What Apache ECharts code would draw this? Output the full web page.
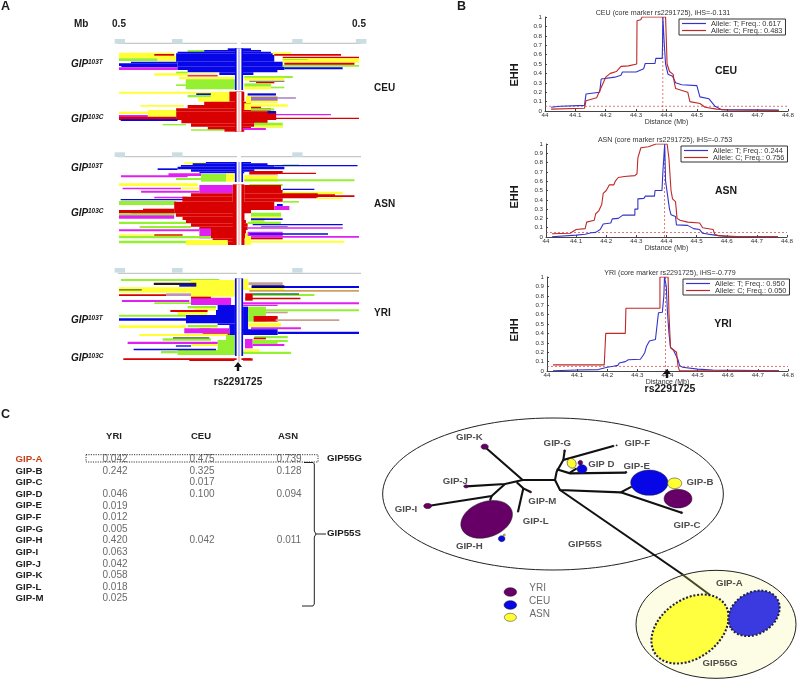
<!DOCTYPE html>
<html><head><meta charset="utf-8">
<style>html,body{margin:0;padding:0;background:#fff}#c{width:797px;height:680px;filter:blur(0.5px)}</style>
<script src="https://cdn.jsdelivr.net/npm/echarts@6/dist/echarts.min.js"></script>
</head><body><div id="c"></div>
<script>
// ---------- Panel A: haplotype bifurcation bands [rowTop,rowBottom,kbLeft,kbRight,colourKey]
const hapColours={B:'#0606e6',D:'#000080',R:'#d80000',Y:'#ffff33',G:'#94f030',M:'#e020f0',P:'#9a70c0',T:'#c8a090',O:'#d0a060',K:'#2a1a10',L:'#c090c0',E:'#207070',A:'#6a8a50',N:'#8a7a9a',W:'#ffffff',b:'#a8a8e8',r:'#f0b0b0'};
const ceuBands=[[38,48,-500,-270,'Y'],[48,63,-340,-262,'Y'],[48,55,-500,-340,'Y'],[55,63,-500,-340,'G'],[42,47,-353,-270,'R'],[65,70,-450,-256,'B'],[70,78,-500,-256,'B'],[78,82,-490,-256,'B'],[82,90,-500,-256,'M'],[30,36,-214,-145,'G'],
[25,30,-47,50,'B'],[30,35,-145,92,'B'],[35,40,-256,133,'B'],[40,65,-262,147,'B'],[65,80,-256,182,'B'],[80,90,-256,189,'B'],[90,97,-214,160,'B'],[97,105,-82,60,'B'],
[95,103,-262,-214,'G'],[100,107,-353,-89,'Y'],[105,110,-214,-89,'M'],[110,118,-250,-19,'Y'],[118,148,-222,-17,'G'],[133,138,-262,-222,'G'],
[37,45,140,217,'Y'],[42,47,147,425,'R'],[50,55,182,500,'R'],[55,68,182,500,'Y'],[57,60,182,285,'G'],[68,74,189,481,'R'],[75,80,182,500,'G'],[82,88,189,432,'B'],
[108,114,22,224,'G'],[113,122,22,189,'Y'],[122,126,43,189,'N'],[126,130,71,147,'R'],[130,140,22,133,'G'],[140,148,22,133,'Y'],[140,145,133,189,'G'],
[155,161,-500,-20,'Y'],[160,165,-178,-117,'B'],[165,172,-214,-117,'G'],[160,190,-117,-40,'Y'],[172,185,-170,-117,'Y'],
[155,185,-40,22,'R'],[185,195,-145,50,'R'],[195,205,-214,92,'R'],[205,215,-262,133,'R'],[215,240,-262,155,'R'],[240,250,-240,119,'R'],[250,260,-200,64,'R'],[260,270,-130,50,'R'],[270,275,-61,22,'R'],
[195,200,-410,-230,'Y'],[210,230,-380,-262,'Y'],[215,222,-500,-380,'Y'],[225,232,-500,-380,'M'],[230,240,-500,-262,'R'],[238,243,-493,-256,'B'],[252,256,-318,-221,'G'],[268,272,-200,-61,'G'],
[160,167,36,154,'B'],[167,190,29,161,'Y'],[170,182,50,161,'P'],[172,176,161,237,'P'],[190,210,22,50,'Y'],[193,200,50,203,'Y'],[205,212,50,147,'G'],[213,220,119,154,'B'],[222,226,154,383,'M'],[233,237,154,500,'R'],[248,262,64,182,'G'],[256,262,64,182,'Y'],[264,270,15,112,'M'],
[25,150,-17,17,'B'],[25,150,-10,10,'W'],[25,150,-3,3,'b'],[155,275,-17,17,'R'],[155,275,-10,10,'W'],[155,275,-3,3,'r']];
const asnBands=[[37,43,-228,-138,'Y'],[36,40,-138,50,'B'],[40,45,-193,119,'B'],[45,50,-242,147,'B'],[55,60,-339,-256,'B'],[50,58,-256,189,'B'],[58,65,-200,64,'B'],[65,70,-165,22,'B'],[43,47,182,250,'G'],[45,49,147,494,'B'],[63,70,43,182,'R'],[70,78,-294,-158,'M'],[72,95,-158,-54,'G'],[70,95,-54,-17,'Y'],[68,72,43,321,'R'],[73,77,43,161,'M'],[76,82,-492,-214,'M'],[84,90,-263,-151,'G'],[75,95,22,161,'Y'],[88,94,22,481,'G'],
[100,108,-500,-172,'Y'],[102,108,43,182,'G'],[113,118,-485,-242,'M'],[112,118,-242,-165,'Y'],[105,130,-165,-26,'M'],[122,128,-408,-165,'M'],
[105,120,22,175,'R'],[120,130,22,182,'R'],[116,120,182,314,'B'],[125,132,182,432,'Y'],[133,138,182,400,'R'],[136,141,300,481,'R'],[130,145,22,328,'R'],[145,155,22,182,'R'],[143,147,321,432,'Y'],[153,158,182,250,'G'],
[130,140,-200,-26,'R'],[140,145,-353,-214,'M'],[147,151,-493,-228,'B'],[140,155,-236,-26,'R'],[153,165,-500,-262,'G'],
[155,165,-270,147,'R'],[165,180,-270,147,'R'],[176,181,-400,-270,'R'],[180,190,-500,-270,'R'],[190,194,-450,-270,'R'],[180,190,-270,50,'R'],[190,200,-263,22,'R'],[200,210,-235,22,'R'],[210,220,-221,29,'R'],[220,230,-200,36,'R'],[230,240,-165,36,'R'],[240,265,-117,29,'R'],[265,275,-110,22,'R'],[275,285,-47,22,'R'],
[190,196,-500,-270,'G'],[196,206,-500,-270,'M'],[215,222,-500,-221,'G'],[228,235,-414,-200,'G'],[238,244,-500,-165,'M'],[235,265,-165,-117,'M'],[253,257,-500,-235,'Y'],[253,257,-353,-235,'R'],[258,265,-500,-117,'G'],[272,280,-500,-221,'G'],[270,285,-221,-47,'Y'],
[250,285,25,50,'Y'],[272,278,50,439,'Y'],[258,263,50,500,'M'],[263,268,50,182,'R'],[245,258,36,182,'M'],[250,254,43,371,'B'],[232,236,36,432,'M'],[222,226,57,432,'B'],[228,232,92,203,'P'],[188,200,50,175,'G'],[200,205,50,175,'Y'],[205,215,50,106,'G'],[205,210,50,182,'B'],[168,180,147,210,'M'],[162,168,158,182,'B'],[215,222,36,175,'G'],
[36,96,-17,17,'B'],[36,96,-10,10,'W'],[36,96,-3,3,'b'],[103,285,-26,22,'R'],[103,285,-10,10,'W'],[103,285,-3,3,'r']];
const yriBands=[[27,33,-492,-82,'G'],[30,80,-200,-17,'Y'],[38,45,-355,-178,'K'],[44,50,-249,-178,'B'],[52,68,-500,-200,'Y'],[57,62,-500,-405,'A'],[73,78,-500,-297,'R'],[70,78,-304,-200,'L'],[90,96,-488,-207,'M'],[83,105,-200,-33,'M'],[97,102,-353,-200,'G'],[80,85,-200,-117,'R'],
[105,120,-89,-17,'B'],[120,135,-96,-17,'B'],[135,160,-221,-17,'B'],[145,152,-500,-221,'B'],[160,165,-89,-17,'B'],[165,195,-40,-17,'B'],
[108,115,-214,-96,'G'],[115,122,-186,-96,'Y'],[120,126,-286,-131,'R'],[126,135,-256,-131,'Y'],[134,140,-500,-221,'G'],[166,174,-500,-221,'Y'],[165,172,-214,-89,'G'],[172,176,-172,-89,'Y'],[176,180,-165,-117,'B'],[175,190,-228,-40,'M'],[190,195,-151,-40,'R'],[192,198,-415,-47,'Y'],[205,212,-318,-117,'G'],[201,206,-275,-124,'A'],
[195,210,-54,-17,'G'],[210,240,-89,-17,'G'],[240,255,-256,-17,'G'],[215,222,-464,-89,'M'],[222,228,-200,-89,'Y'],[226,230,-263,-200,'B'],[236,241,-439,-96,'B'],[243,250,-325,-256,'G'],[265,270,-482,50,'R'],[268,273,-207,-19,'R'],
[37,45,39,182,'T'],[27,60,17,39,'Y'],[48,54,53,500,'B'],[46,54,53,189,'D'],[60,65,43,500,'O'],[54,60,17,189,'Y'],[72,78,50,314,'G'],[70,74,57,250,'E'],[70,92,26,57,'R'],[83,88,26,256,'R'],[97,103,17,500,'M'],[104,108,17,161,'M'],[118,124,36,500,'G'],[110,185,17,38,'B'],[110,155,38,112,'G'],[125,130,112,203,'T'],[138,155,61,161,'R'],[148,153,153,418,'T'],[158,170,38,175,'Y'],[172,178,50,258,'M'],[178,195,17,161,'B'],[185,192,161,500,'B'],[198,205,64,203,'G'],[203,208,61,112,'R'],[207,235,25,57,'M'],[210,216,57,203,'G'],[216,222,57,161,'G'],[222,228,57,189,'M'],[238,245,17,85,'Y'],[245,252,17,217,'G'],[265,272,17,57,'R'],
[25,258,-17,17,'B'],[25,258,-10,10,'W'],[25,258,-3,3,'b'],[258,275,-10,10,'W'],[258,275,-3,3,'r']];
const ceuRuler=[[-3,11,-518,-475],[-3,11,-279,-235],[-3,11,222,265],[-3,11,487,531]];
const asnRuler=[[7,21,-518,-475],[7,21,-279,-235],[7,21,222,265]];
const yriRuler=[[-6,8,-518,-475],[-6,8,-279,-235],[-6,8,222,265]];

// ---------- Panel B: EHH curves [distance Mb, EHH]
const ceuCore=44.388, asnCore=44.394, yriCore=44.393;
const ceuT=[[44.02,.04],[44.05,.05],[44.13,.06],[44.135,.18],[44.18,.2],[44.185,.34],[44.23,.36],[44.25,.38],[44.255,.415],[44.3,.415],[44.325,.45],[44.33,.505],[44.362,.505],[44.365,.56],[44.386,.56],[44.387,.7],[44.388,1],[44.391,1],[44.393,.7],[44.397,.5],[44.405,.39],[44.42,.37],[44.43,.3],[44.45,.28],[44.5,.27],[44.51,.15],[44.54,.13],[44.56,.05],[44.58,.015],[44.77,.01]];
const ceuC=[[44.02,.02],[44.13,.03],[44.135,.11],[44.17,.14],[44.185,.25],[44.2,.36],[44.215,.4],[44.235,.42],[44.25,.475],[44.275,.48],[44.28,.5],[44.302,.5],[44.303,.96],[44.315,.97],[44.32,1],[44.397,1],[44.402,.5],[44.41,.42],[44.422,.39],[44.426,.3],[44.43,.24],[44.47,.2],[44.477,.1],[44.51,.08],[44.527,.04],[44.565,.02],[44.6,.01],[44.77,.005]];
const asnT=[[44.02,.002],[44.1,.02],[44.13,.03],[44.15,.045],[44.165,.05],[44.18,.08],[44.19,.14],[44.215,.15],[44.22,.195],[44.24,.2],[44.255,.235],[44.295,.235],[44.295,.3],[44.305,.3],[44.305,.41],[44.325,.415],[44.33,.44],[44.36,.44],[44.362,.5],[44.385,.5],[44.388,.7],[44.394,1],[44.397,.6],[44.41,.3],[44.415,.24],[44.43,.22],[44.433,.13],[44.47,.125],[44.49,.09],[44.51,.08],[44.52,.04],[44.56,.02],[44.6,.005],[44.77,.002]];
const asnC=[[44.02,.035],[44.08,.04],[44.1,.08],[44.13,.09],[44.135,.16],[44.16,.18],[44.165,.25],[44.175,.28],[44.185,.35],[44.19,.47],[44.2,.5],[44.21,.56],[44.225,.56],[44.23,.6],[44.24,.64],[44.26,.65],[44.295,.66],[44.302,.68],[44.305,.85],[44.315,.96],[44.34,.97],[44.345,.99],[44.365,1],[44.402,1],[44.408,.85],[44.415,.5],[44.42,.41],[44.43,.38],[44.435,.2],[44.445,.18],[44.47,.16],[44.51,.15],[44.52,.1],[44.555,.08],[44.56,.03],[44.57,.015],[44.65,.002],[44.77,.001]];
const yriT=[[44.02,.002],[44.1,.01],[44.17,.015],[44.2,.04],[44.22,.05],[44.235,.06],[44.24,.085],[44.26,.1],[44.27,.12],[44.31,.125],[44.32,.17],[44.325,.2],[44.33,.26],[44.34,.32],[44.36,.335],[44.365,.34],[44.37,.62],[44.383,.625],[44.388,.8],[44.39,1],[44.396,.9],[44.4,.62],[44.405,.4],[44.41,.25],[44.42,.22],[44.435,.12],[44.44,.06],[44.45,.04],[44.5,.02],[44.55,.01],[44.77,.001]];
const yriC=[[44.02,.065],[44.19,.065],[44.195,.4],[44.26,.4],[44.262,.667],[44.375,.667],[44.375,1],[44.402,1],[44.405,.6],[44.41,.25],[44.43,.2],[44.435,.05],[44.44,.001],[44.77,.001]];
const ehhCutoff=0.05;

// ---------- Panel C: frequency table
const haplotypes=['GIP-A','GIP-B','GIP-C','GIP-D','GIP-E','GIP-F','GIP-G','GIP-H','GIP-I','GIP-J','GIP-K','GIP-L','GIP-M'];
const populations=['YRI','CEU','ASN'];
const freqYRI=['0.042','0.242','','0.046','0.019','0.012','0.005','0.420','0.063','0.042','0.058','0.018','0.025'];
const freqCEU=['0.475','0.325','0.017','0.100','','','','0.042','','','','',''];
const freqASN=['0.739','0.128','','0.094','','','','0.011','','','','',''];

// ---------- Panel C: network (diagram units)
const netAreas=[[519,222,511,228,0,'#ffffff','#222',1],[1008,613,240,162,0,'#fdfde6','#222',1]];
const netEdges=[
[[525,180],[428,180],[314,80]],[[428,180],[375,192],[258,199]],[[375,192],[335,228],[143,258]],[[335,228],[330,242]],
[[410,187],[430,205],[452,216]],[[430,205],[414,275]],[[525,180],[530,155],[550,120],[700,78]],[[550,120],[554,92]],
[[530,148],[570,160],[738,158]],[[570,158],[590,145]],[[525,180],[540,210],[722,217],[755,200]],[[722,217],[905,278]],[[540,210],[910,465]]];
const netEdgeA=[[905,462],[990,525]];
const netBlobs=[[320,298,80,53,-20,'#660066'],[365,356,10,9,0,'#0606e6'],[373,345,3,3,0,'#ffff33'],[808,188,56,38,0,'#0606e6'],[884,190,21,16,0,'#ffff33'],[894,236,42,28,0,'#660066'],
[575,130,13,15,-30,'#ffff33'],[601,128,7,7,0,'#660066'],[606,147,15,13,0,'#0606e6'],[314,80,11,8,0,'#660066'],[258,199,7,5,0,'#660066'],[143,258,12,8,0,'#660066'],[452,216,3,3,0,'#660066'],[554,92,3,3,0,'#111'],[700,78,3,2,0,'#111'],[710,76,2,2,0,'#111'],[738,157,3,3,0,'#111'],[905,278,3,3,0,'#111'],[414,275,2,2,0,'#111'],
[391,516,19,13,0,'#660066'],[391,555,19,13,0,'#0606e6'],[391,592,18,12,0,'#ffff33']];
const netDotted=[[930,627,128,88,-36,'#ffff40'],[1122,580,82,62,-32,'#3a3ae0']];
const netLabels=[['GIP-K',268,53],['GIP-G',532,70],['GIP-F',772,70],['GIP D',664,133],['GIP-E',770,139],['GIP-B',960,188],['GIP-J',226,183],['GIP-M',487,245],['GIP-L',467,305],['GIP-I',78,268],['GIP-H',268,379],['GIP-C',921,317],['GIP55S',615,373],['GIP-A',1048,490],['GIP55G',1020,729]];
const netLegend=[['YRI',473,506],['CEU',479,544],['ASN',479,582]];

// ---------- drawing
const FF='"Liberation Sans",Arial,sans-serif';
const chart=echarts.init(document.getElementById('c'),null,{renderer:'canvas'});
const grids=[],xAxes=[],yAxes=[],series=[],titles=[],legends=[];
function addHap(top,bands,ruler,rulerRow,showLabels){
  const i=grids.length;
  grids.push({left:119,top:top,width:240,height:100});
  xAxes.push({gridIndex:i,type:'value',min:-500,max:500,interval:500,position:'top',show:showLabels,axisLine:{show:false},axisTick:{show:false},splitLine:{show:false},
    axisLabel:{margin:11,fontFamily:FF,fontSize:10,fontWeight:'bold',color:'#222',showMinLabel:true,showMaxLabel:true,formatter:v=>v===0?'':(Math.abs(v)/1000).toFixed(1)}});
  yAxes.push({gridIndex:i,type:'value',min:0,max:300,inverse:true,show:false});
  series.push({type:'custom',xAxisIndex:i,yAxisIndex:i,coordinateSystem:'cartesian2d',silent:true,data:ruler,z:2,renderItem:(p,api)=>{
    const r=ruler[p.dataIndex],a=api.coord([r[2],r[0]]),b=api.coord([r[3],r[1]]);
    return {type:'rect',shape:{x:a[0],y:a[1],width:b[0]-a[0],height:b[1]-a[1]},style:{fill:'#c9dde2'}};},encode:{x:2,y:0}});
  series.push({type:'line',xAxisIndex:i,yAxisIndex:i,silent:true,symbol:'none',data:[[-510,rulerRow],[-8,rulerRow],[null,null],[8,rulerRow],[510,rulerRow]],connectNulls:false,lineStyle:{color:'#c4c8c8',width:1.2},z:1});
  series.push({type:'custom',xAxisIndex:i,yAxisIndex:i,silent:true,data:bands,z:3,encode:{x:2,y:0},renderItem:(p,api)=>{
    const r=bands[p.dataIndex],a=api.coord([r[2],r[0]]),b=api.coord([r[3],r[1]]);
    return {type:'rect',shape:{x:a[0],y:a[1],width:b[0]-a[0],height:b[1]-a[1]},style:{fill:hapColours[r[4]]}};}});
}
addHap(40,ceuBands,ceuRuler,10,true);
addHap(150,asnBands,asnRuler,20,false);
addHap(270,yriBands,yriRuler,10,false);

function addEhh(left,top,width,height,core,T,C,title,tx,ty,nameT,nameC,lx,ly){
  const i=grids.length;
  grids.push({left,top,width,height});
  const lab={fontFamily:FF,fontSize:6.2,color:'#333'};
  xAxes.push({gridIndex:i,type:'value',min:44,max:44.8,interval:0.1,name:'Distance (Mb)',nameLocation:'middle',nameGap:7,nameTextStyle:{fontFamily:FF,fontSize:7,color:'#333'},
    axisLine:{lineStyle:{color:'#444',width:1}},axisTick:{inside:true,length:2,lineStyle:{color:'#444'}},axisLabel:{...lab,margin:1,formatter:v=>String(+v.toFixed(1))},splitLine:{show:false}});
  yAxes.push({gridIndex:i,type:'value',min:0,max:1,interval:0.1,axisLine:{show:true,lineStyle:{color:'#444',width:1}},axisTick:{show:true,inside:true,length:2,lineStyle:{color:'#444'}},axisLabel:{...lab,margin:3,formatter:v=>String(+v.toFixed(1))},splitLine:{show:false}});
  const red='#c02828',blue='#3434c8';
  series.push({type:'line',name:nameT,xAxisIndex:i,yAxisIndex:i,data:T,symbol:'none',silent:true,lineStyle:{color:blue,width:1.1},itemStyle:{color:blue},z:4});
  series.push({type:'line',name:nameC,xAxisIndex:i,yAxisIndex:i,data:C,symbol:'none',silent:true,lineStyle:{color:red,width:1.1},itemStyle:{color:red},z:5});
  series.push({type:'line',xAxisIndex:i,yAxisIndex:i,data:[[44,ehhCutoff],[44.8,ehhCutoff]],symbol:'none',silent:true,lineStyle:{color:'#d04040',width:.7,type:[2,2]},z:3});
  series.push({type:'line',xAxisIndex:i,yAxisIndex:i,data:[[core,0],[core,1]],symbol:'none',silent:true,lineStyle:{color:'#d04040',width:.7,type:[2,2]},z:3});
  titles.push({text:title,left:tx,top:ty,textAlign:'center',padding:0,textStyle:{fontFamily:FF,fontSize:7.1,fontWeight:'normal',color:'#333'}});
  legends.push({data:[nameT,nameC],left:lx,top:ly,orient:'vertical',padding:[1,3,1,3],itemGap:0,itemWidth:24,itemHeight:1.2,icon:'rect',borderColor:'#333',borderWidth:1,backgroundColor:'#fff',selectedMode:false,textStyle:{fontFamily:FF,fontSize:7.4,lineHeight:5,color:'#333',padding:0}});
}
addEhh(545,17,243,94,ceuCore,ceuT,ceuC,'CEU (core marker rs2291725), iHS=-0.131',663,10,'Allele: T; Freq.: 0.617','Allele: C; Freq.: 0.483',679,19);
addEhh(546,144,241,93,asnCore,asnT,asnC,'ASN (core marker rs2291725), iHS=-0.753',665,137,'Allele: T; Freq.: 0.244','Allele: C; Freq.: 0.756',681,146);
addEhh(547,277,243,94,yriCore,yriT,yriC,'YRI (core marker rs2291725), iHS=-0.779',670,270,'Allele: T; Freq.: 0.950','Allele: C; Freq.: 0.050',683,279);

// table
{
  const i=grids.length;
  grids.push({left:70.5,top:453.5,width:261,height:151});
  xAxes.push({gridIndex:i,type:'category',data:populations,position:'top',axisLine:{show:false},axisTick:{show:false},axisLabel:{interval:0,margin:12,fontFamily:FF,fontSize:9.5,fontWeight:'bold',color:'#222'}});
  yAxes.push({gridIndex:i,type:'category',data:haplotypes,inverse:true,axisLine:{show:false},axisTick:{show:false},axisLabel:{interval:0,align:'left',margin:55,fontFamily:FF,fontSize:9.7,fontWeight:'bold',color:v=>v==='GIP-A'?'#c8401a':'#222'}});
  const cells=[];
  [freqYRI,freqCEU,freqASN].forEach((col,c)=>col.forEach((v,r)=>{if(v)cells.push([c,r,v]);}));
  series.push({type:'scatter',xAxisIndex:i,yAxisIndex:i,data:cells,symbolSize:0,silent:true,z:6,label:{show:true,position:'inside',formatter:p=>p.value[2],fontFamily:FF,fontSize:10,color:'#444',offset:[1,0]}});
}
// network
{
  const i=grids.length;
  grids.push({left:380,top:400,width:417,height:280});
  xAxes.push({gridIndex:i,type:'value',min:0,max:1251,show:false});
  yAxes.push({gridIndex:i,type:'value',min:-60,max:780,inverse:true,show:false});
  const ell=(r,api,extra)=>{
    const c=api.coord([r[0],r[1]]),s=api.size([r[2],r[3]]);
    return {type:'ellipse',x:c[0],y:c[1],rotation:-(r[4]||0)*Math.PI/180,shape:{cx:0,cy:0,rx:s[0],ry:s[1]},style:extra};
  };
  series.push({type:'custom',xAxisIndex:i,yAxisIndex:i,silent:true,z:2,data:netAreas,encode:{x:0,y:1},renderItem:(p,api)=>{const r=netAreas[p.dataIndex];return ell(r,api,{fill:r[5],stroke:r[6],lineWidth:r[7]});}});
  series.push({type:'custom',xAxisIndex:i,yAxisIndex:i,silent:true,z:3,data:netEdges.map((e,k)=>[k,0]),encode:{x:0,y:1},renderItem:(p,api)=>({type:'polyline',shape:{points:netEdges[p.dataIndex].map(q=>api.coord(q))},style:{fill:null,stroke:'#111',lineWidth:2.1}})});
  series.push({type:'custom',xAxisIndex:i,yAxisIndex:i,silent:true,z:3,data:[[0,0]],encode:{x:0,y:1},renderItem:(p,api)=>({type:'polyline',shape:{points:netEdgeA.map(q=>api.coord(q))},style:{fill:null,stroke:'#4a4a20',lineWidth:2.1}})});
  series.push({type:'custom',xAxisIndex:i,yAxisIndex:i,silent:true,z:4,data:netBlobs,encode:{x:0,y:1},renderItem:(p,api)=>{const r=netBlobs[p.dataIndex];return ell(r,api,{fill:r[5],stroke:'#222',lineWidth:.5});}});
  series.push({type:'custom',xAxisIndex:i,yAxisIndex:i,silent:true,z:4,data:netDotted,encode:{x:0,y:1},renderItem:(p,api)=>{const r=netDotted[p.dataIndex];return ell(r,api,{fill:r[5],stroke:'#222244',lineWidth:2.1,lineDash:[2,1.8]});}});
  series.push({type:'scatter',xAxisIndex:i,yAxisIndex:i,silent:true,z:6,symbolSize:0,data:netLabels.map(l=>[l[1],l[2],l[0]]),label:{show:true,position:'inside',formatter:p=>p.value[2],fontFamily:FF,fontSize:9.7,fontWeight:'bold',color:'#222'}});
  series.push({type:'scatter',xAxisIndex:i,yAxisIndex:i,silent:true,z:6,symbolSize:0,data:netLegend.map(l=>[l[1],l[2],l[0]]),label:{show:true,position:'inside',formatter:p=>p.value[2],fontFamily:FF,fontSize:10,color:'#444'}});
}
// annotations
const txt=(t,x,y,fs,o={})=>({type:'text',x,y,z:50,silent:true,rotation:o.rot||0,style:{text:t,fontFamily:FF,fontSize:fs,fontWeight:o.w||'bold',fontStyle:o.i||'normal',fill:o.c||'#1a1a1a',textAlign:o.a||'left',textVerticalAlign:'middle'}});
const gip=(sup,y)=>[txt('GIP',71,y,10,{i:'italic'}),txt(sup,88,y-1.5,6.5,{i:'italic'})];
const arrow=(x,y)=>({type:'polygon',z:50,silent:true,shape:{points:[[x,y],[x+4,y+5],[x+1.2,y+5],[x+1.2,y+9],[x-1.2,y+9],[x-1.2,y+5],[x-4,y+5]]},style:{fill:'#111'}});
const graphic=[
 txt('A',1,7,12.5),txt('B',457,7,12.5),txt('C',1,415,12.5),
 txt('Mb',74,24,10),
 ...gip('103T',64),...gip('103C',119),...gip('103T',168),...gip('103C',213),...gip('103T',320),...gip('103C',358),
 txt('CEU',374,88,10),txt('ASN',374,204,10),txt('YRI',374,313,10),
 txt('rs2291725',238,382,10,{a:'center'}),arrow(238,362),
 txt('EHH',515,75,11,{a:'center',rot:Math.PI/2}),txt('EHH',515,197,11,{a:'center',rot:Math.PI/2}),txt('EHH',515,330,11,{a:'center',rot:Math.PI/2}),
 txt('CEU',726,71,10.5,{a:'center'}),txt('ASN',726,191,10.5,{a:'center'}),txt('YRI',723,324,10.5,{a:'center'}),
 arrow(667,369),txt('rs2291725',670,389,10.5,{a:'center'}),
 {type:'rect',z:50,silent:true,shape:{x:86,y:454.7,width:232,height:7.3},style:{fill:null,stroke:'#222',lineWidth:.9,lineDash:[1.2,1.2]}},
 {type:'polyline',z:50,silent:true,shape:{points:[[304,462.5],[313,462.5],[314.3,464],[314.3,531],[316,534],[314.3,537],[314.3,604],[313,606],[302,606]]},style:{fill:null,stroke:'#222',lineWidth:1}},
 {type:'line',z:50,silent:true,shape:{x1:316,y1:534,x2:326,y2:534},style:{stroke:'#222',lineWidth:1}},
 txt('GIP55G',327,458,9.7),txt('GIP55S',327,533,9.7)
];
chart.setOption({animation:false,backgroundColor:'#fff',tooltip:{show:false},title:titles,legend:legends,grid:grids,xAxis:xAxes,yAxis:yAxes,series,graphic:{elements:graphic}});
</script></body></html>
